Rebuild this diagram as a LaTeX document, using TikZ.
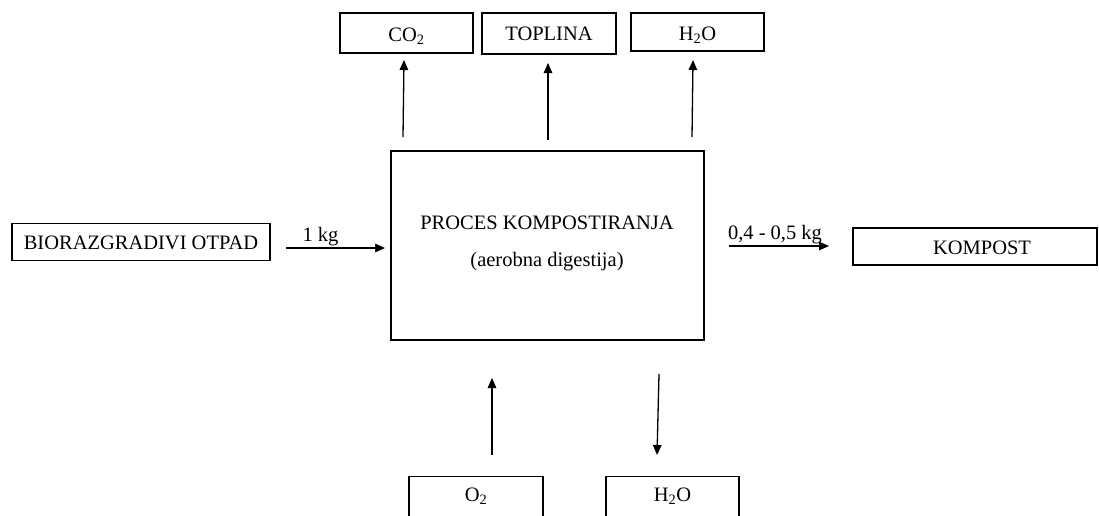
\documentclass[tikz,border=0pt]{standalone}
\usepackage{fontspec}
\setmainfont{Liberation Serif}
\usetikzlibrary{arrows.meta}
\begin{document}
\begin{tikzpicture}[x=1pt,y=-1pt,
  box/.style={draw,line width=1.3pt,inner sep=0pt},
  arr/.style={-{Triangle[length=10pt,width=8.5pt]},line width=1.3pt},
  lbl/.style={font=\fontsize{20.5}{24}\selectfont},
  txt/.style={lbl,anchor=base,inner sep=0pt}]
\useasboundingbox (0,0) rectangle (1099,515);
\begin{scope}
\clip (0,0) rectangle (1099,515);
% top boxes
\node[box,minimum width=133pt,minimum height=40pt] (co2) at (406.5,33) {};
\node[txt] (co2t) at (406.5,41) {CO\textsubscript{2}};
\node[box,minimum width=134pt,minimum height=41pt] (top) at (549,33.5) {};
\node[txt] (topt) at (549,40) {TOPLINA};
\node[box,minimum width=133pt,minimum height=38pt] (h2ot) at (697.5,32) {};
\node[txt] (h2ott) at (697.5,40) {H\textsubscript{2}O};
% main
\node[box,minimum width=313pt,minimum height=189pt] (main) at (547.5,245.5) {};
\node[txt] (t1) at (547,229) {PROCES KOMPOSTIRANJA};
\node[txt] (t2) at (547,266) {(aerobna digestija)};
% left / right
\node[box,minimum width=258pt,minimum height=37pt] (bio) at (141,242) {};
\node[txt] (biot) at (141,249) {BIORAZGRADIVI OTPAD};
\node[box,minimum width=244pt,minimum height=37pt] (komp) at (975,246.5) {};
\node[txt] (kompt) at (982,254) {KOMPOST};
% bottom
\node[box,minimum width=134pt,minimum height=60pt,anchor=north] (o2) at (476,476) {};
\node[txt] (o2t) at (476,501) {O\textsubscript{2}};
\node[box,minimum width=133pt,minimum height=60pt,anchor=north] (h2ob) at (672.5,476) {};
\node[txt] (h2obt) at (672.5,501) {H\textsubscript{2}O};
\end{scope}
% arrows up
\coordinate (a1s) at (403,137); \coordinate (a1e) at (404,60);
\coordinate (a2s) at (548,140); \coordinate (a2e) at (548,63);
\coordinate (a3s) at (692,137); \coordinate (a3e) at (693,60);
\draw[arr] (a1s) -- (a1e);
\draw[arr] (a2s) -- (a2e);
\draw[arr] (a3s) -- (a3e);
% left arrow
\coordinate (l1s) at (286,248); \coordinate (l1e) at (385,248);
\draw[arr] (l1s) -- node[above,lbl,inner sep=1pt,xshift=-15pt] (kg1) {1 kg} (l1e);
% right arrow
\coordinate (r1s) at (729,246); \coordinate (r1e) at (829,246);
\draw[arr] (r1s) -- node[above,lbl,inner sep=1pt,xshift=-4pt] (kg2) {0,4 - 0,5 kg} (r1e);
% bottom arrows
\coordinate (b1s) at (492,455); \coordinate (b1e) at (492,378);
\coordinate (b2s) at (659,374); \coordinate (b2e) at (657,455);
\draw[arr] (b1s) -- (b1e);
\draw[arr] (b2s) -- (b2e);
\end{tikzpicture}
\end{document}
